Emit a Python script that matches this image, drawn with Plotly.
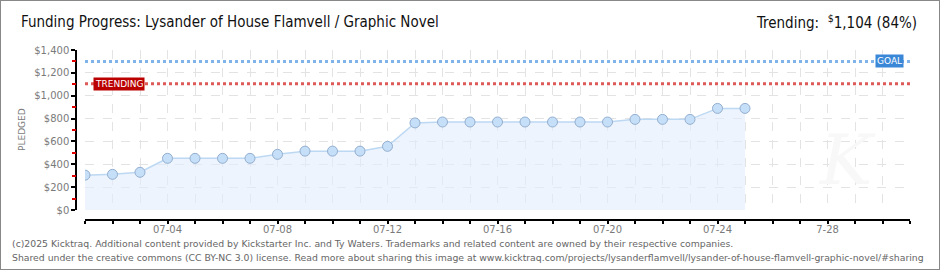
import plotly.graph_objects as go

# ---- data ----
dates = ["2025-07-%02d" % d for d in range(1, 26)]
pledged = [305, 312, 330, 452, 452, 452, 452, 487, 515, 515, 515, 557,
           762, 770, 770, 770, 770, 770, 770, 770, 793, 793, 793, 889, 889]
day_ticks = ["2025-07-%02d" % d for d in range(1, 32)]
label_dates = ["2025-07-04", "2025-07-08", "2025-07-12", "2025-07-16",
               "2025-07-20", "2025-07-24", "2025-07-28"]
label_texts = ["07-04", "07-08", "07-12", "07-16", "07-20", "07-24", "7-28"]
minor_ticks = [100, 300, 500, 700, 900, 1100, 1300]
GOAL = 1300
TRENDING = 1104
title_text = "Funding Progress: Lysander of House Flamvell / Graphic Novel"
trend_text = "Trending:  <sup>$</sup>1,104 (84%)"
footer1 = ("(c)2025 Kicktraq. Additional content provided by Kickstarter Inc. and Ty Waters. "
           "Trademarks and related content are owned by their respective companies.")
footer2 = ("Shared under the creative commons (CC BY-NC 3.0) license. Read more about sharing this image at "
           "www.kicktraq.com/projects/lysanderflamvell/lysander-of-house-flamvell-graphic-novel/#sharing")

# ---- layout geometry (pixels) ----
W, H = 940, 270
L, R, T, B = 76, 30, 50, 50
PW, PH = W - L - R, H - T - B


def px(xp):
    return (xp - L) / PW


def py(yp):
    return (H - B - yp) / PH


fig = go.Figure()
fig.add_trace(go.Scatter(
    x=dates, y=pledged, mode="lines+markers",
    line=dict(color="#bcd8f3", width=1.5),
    fill="tozeroy", fillcolor="rgba(225,237,251,0.6)",
    marker=dict(size=10, color="#c6dff8", line=dict(color="#93aecf", width=1)),
    hoverinfo="skip", showlegend=False,
))
# invisible trace on overlay axis carrying the red minor ticks
fig.add_trace(go.Scatter(x=[dates[0]], y=[0], yaxis="y2", mode="markers",
                         marker=dict(opacity=0), hoverinfo="skip", showlegend=False))

grid = dict(showgrid=True, gridcolor="#e3e3e3", griddash="dash", gridwidth=1)
tfont = dict(family="DejaVu Sans", size=10, color="#7a7a7a")

fig.update_layout(
    width=W, height=H,
    margin=dict(l=L, r=R, t=T, b=B),
    paper_bgcolor="white", plot_bgcolor="white",
    xaxis=dict(
        domain=[px(85), 1], anchor="free", position=0,
        range=["2025-07-01", "2025-07-31"], type="date",
        tickmode="array", tickvals=label_dates, ticktext=label_texts,
        ticks="outside", ticklen=3, tickcolor="#000", tickwidth=1.5,
        ticklabelstandoff=-3,
        minor=dict(tickmode="array", tickvals=day_ticks, ticks="outside", ticklen=3,
                   tickcolor="#000", tickwidth=1.5, showgrid=True,
                   gridcolor="#e3e3e3", griddash="dash", gridwidth=1),
        showline=True, linecolor="#000", linewidth=1.5,
        tickfont=tfont, zeroline=False, **grid,
    ),
    yaxis=dict(
        domain=[py(210), 1], anchor="free", position=0,
        range=[0, 1400], dtick=200, tick0=0,
        tickprefix="$", tickformat=",d",
        ticks="outside", ticklen=4, tickcolor="#000", tickwidth=1.5,
        showline=True, linecolor="#000", linewidth=1.5,
        tickfont=tfont, zeroline=False, **grid,
    ),
    yaxis2=dict(
        domain=[py(210), 1], anchor="free", position=0, overlaying="y",
        range=[0, 1400], tickmode="array", tickvals=minor_ticks,
        showticklabels=False, showgrid=False, zeroline=False, showline=False,
        ticks="outside", ticklen=4, tickcolor="#e00000", tickwidth=1.5,
    ),
)

# goal & trending lines
fig.add_shape(type="line", xref="x domain", yref="y", x0=0, x1=1, y0=GOAL, y1=GOAL,
              line=dict(color="#7fb3ea", width=3, dash="dot"))
fig.add_shape(type="line", xref="x domain", yref="y", x0=0, x1=1, y0=TRENDING, y1=TRENDING,
              line=dict(color="#dc5a5a", width=3, dash="dot"))

fig.add_annotation(xref="paper", yref="y", x=px(93), y=TRENDING, xanchor="left", yanchor="middle",
                   text="TRENDING", showarrow=False, bgcolor="#bb0000",
                   font=dict(family="DejaVu Sans", size=9, color="white"),
                   borderpad=1)
fig.add_annotation(xref="paper", yref="y", x=px(904), y=GOAL, xanchor="right", yanchor="middle",
                   text="GOAL", showarrow=False, bgcolor="#3a87d8",
                   font=dict(family="DejaVu Sans", size=9, color="white"),
                   borderpad=1)

# watermark
fig.add_annotation(xref="paper", yref="paper", x=px(878), y=py(160), text="<i>K</i>",
                   yanchor="middle", showarrow=False,
                   font=dict(family="DejaVu Serif", size=70, color="#f8f8f8"))

# y title
fig.add_annotation(xref="paper", yref="paper", x=px(22), y=py(130), text="PLEDGED",
                   xanchor="center", yanchor="middle",
                   textangle=-90, showarrow=False,
                   font=dict(family="DejaVu Sans", size=9, color="#7a7a7a"))

# titles
fig.add_annotation(xref="paper", yref="paper", x=px(19), y=py(22), xanchor="left", yanchor="middle",
                   text=title_text, showarrow=False,
                   font=dict(family="DejaVu Sans Condensed", size=15, color="#111"))
fig.add_annotation(xref="paper", yref="paper", x=px(919), y=py(22), xanchor="right", yanchor="middle",
                   text=trend_text, showarrow=False,
                   font=dict(family="DejaVu Sans Condensed", size=15, color="#111"))

# footer
fig.add_annotation(xref="paper", yref="paper", x=px(10), y=py(243), xanchor="left", yanchor="middle",
                   text=footer1, showarrow=False,
                   font=dict(family="DejaVu Sans", size=9.3, color="#666"))
fig.add_annotation(xref="paper", yref="paper", x=px(10), y=py(257), xanchor="left", yanchor="middle",
                   text=footer2, showarrow=False,
                   font=dict(family="DejaVu Sans", size=9.3, color="#666"))

# border
fig.add_shape(type="rect", xref="paper", yref="paper",
              x0=px(0), x1=px(W), y0=py(H), y1=py(0),
              line=dict(color="#888", width=2))

fig.write_html("out.html")
